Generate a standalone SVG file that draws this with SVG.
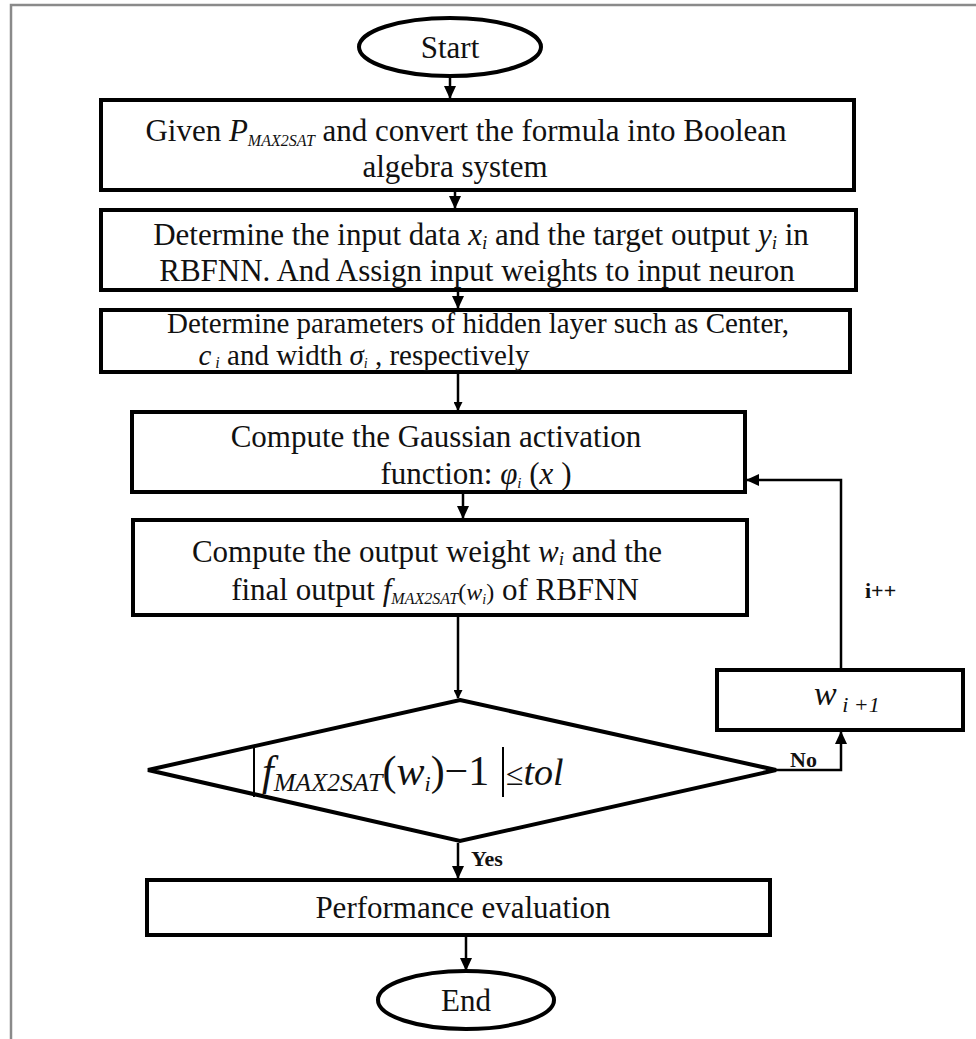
<svg xmlns="http://www.w3.org/2000/svg" width="976" height="1039" viewBox="0 0 976 1039">
<style>
.t{font-family:'Liberation Serif','DejaVu Serif',serif;font-size:31px;fill:#111;text-anchor:middle}
.i{font-style:italic}
.b{fill:#fff;stroke:#000;stroke-width:4}
.c{fill:none;stroke:#000;stroke-width:2.5}
.lb{font-family:'Liberation Serif','DejaVu Serif',serif;font-size:22px;font-weight:bold;fill:#111}
</style>
<defs>
<marker id="ah" markerWidth="9" markerHeight="9" refX="8" refY="4.5" orient="auto" markerUnits="userSpaceOnUse" viewBox="0 0 9 9">
<path d="M0,0 L9,4.5 L0,9 z" fill="#000"/>
</marker>
<marker id="ahb" markerWidth="13" markerHeight="12" refX="12" refY="6" orient="auto" markerUnits="userSpaceOnUse" viewBox="0 0 13 12">
<path d="M0,0 L13,6 L0,12 z" fill="#000"/>
</marker>
</defs>
<rect width="976" height="1039" fill="#fff"/>
<path d="M11,1039 V5 H976" fill="none" stroke="#8a8a8a" stroke-width="2.5"/>

<g id="connectors">
<line class="c" x1="450" y1="77" x2="450" y2="98" marker-end="url(#ahb)" stroke-width="3"/>
<line class="c" x1="455" y1="192" x2="455" y2="208" marker-end="url(#ahb)" stroke-width="3"/>
<line class="c" x1="458" y1="292" x2="458" y2="308" marker-end="url(#ahb)" stroke-width="3"/>
<line class="c" x1="458" y1="374" x2="458" y2="410" marker-end="url(#ah)" stroke-width="2"/>
<line class="c" x1="463" y1="494" x2="463" y2="518" marker-end="url(#ahb)" stroke-width="4"/>
<line class="c" x1="458" y1="617" x2="458" y2="698" marker-end="url(#ah)" stroke-width="2"/>
<polyline class="c" points="776,770 841,770 841,732" marker-end="url(#ahb)" stroke-width="3"/>
<polyline class="c" points="841,668 841,480 747,480" marker-end="url(#ahb)" stroke-width="3"/>
<line class="c" x1="458" y1="843" x2="458" y2="878" marker-end="url(#ahb)" stroke-width="4"/>
<line class="c" x1="466" y1="937" x2="466" y2="970" marker-end="url(#ahb)" stroke-width="4"/>
<text class="lb" x="790" y="767">No</text>
<text class="lb" x="865" y="598">i++</text>
<text class="lb" x="471" y="866">Yes</text>
</g>

<g id="start">
<ellipse class="b" cx="450" cy="47" rx="91" ry="29"/>
<text class="t" x="450" y="58">Start</text>
</g>

<g id="given">
<rect class="b" x="101" y="100" width="753" height="90"/>
<text class="t" x="466" y="141">Given  <tspan class="i">P</tspan><tspan class="i" font-size="16" dy="5">MAX2SAT</tspan><tspan dy="-5"> and convert the formula into Boolean</tspan></text>
<text class="t" x="455" y="177">algebra system</text>
</g>

<g id="input">
<rect class="b" x="101" y="210" width="755" height="80"/>
<text class="t" x="481" y="245">Determine the input data <tspan class="i">x</tspan><tspan class="i" font-size="19" dy="4">i</tspan><tspan dy="-4"> and the target output </tspan><tspan class="i">y</tspan><tspan class="i" font-size="19" dy="4">i</tspan><tspan dy="-4">  in</tspan></text>
<text class="t" x="477" y="281">RBFNN. And Assign input weights to input neuron</text>
</g>

<g id="params">
<rect class="b" x="101" y="310" width="749" height="62"/>
<text class="t" x="478" y="333" style="font-size:29px">Determine parameters of hidden layer such as Center,</text>
<text class="t" x="364" y="365" style="font-size:29px"><tspan class="i">c</tspan><tspan class="i" font-size="16" dy="3"> i</tspan><tspan dy="-3">  and width  </tspan><tspan class="i">σ</tspan><tspan class="i" font-size="14" dy="3">i</tspan><tspan dy="-3"> , respectively</tspan></text>
</g>

<g id="gauss">
<rect class="b" x="132" y="412" width="613" height="80"/>
<text class="t" x="436" y="447">Compute the Gaussian activation</text>
<text class="t" x="476" y="484">function: <tspan class="i">φ</tspan><tspan class="i" font-size="15" dy="4">i</tspan><tspan dy="-4"> (</tspan><tspan class="i">x</tspan> )</text>
</g>

<g id="output">
<rect class="b" x="133" y="520" width="614" height="95"/>
<text class="t" x="427" y="562">Compute the output weight <tspan class="i">w</tspan><tspan class="i" font-size="19" dy="3">i</tspan><tspan dy="-3"> and the</tspan></text>
<text class="t" x="435" y="600">final output <tspan class="i">f</tspan><tspan class="i" font-size="16" dy="4">MAX2SAT</tspan><tspan dy="-4" font-size="24">(</tspan><tspan class="i" font-size="24">w</tspan><tspan class="i" font-size="14" dy="4">i</tspan><tspan dy="-4" font-size="24">)</tspan> of RBFNN</text>
</g>

<g id="decision">
<polygon class="b" points="460,700 776,770 460,841 148,770"/>
<line x1="254" y1="747" x2="254" y2="797" stroke="#000" stroke-width="2"/>
<line x1="503" y1="747" x2="503" y2="797" stroke="#000" stroke-width="2"/>
<text class="t" x="262" y="785" style="font-size:42px;text-anchor:start"><tspan class="i">f</tspan><tspan class="i" font-size="26" dy="6">MAX2SAT</tspan><tspan dy="-6">(</tspan><tspan class="i">w</tspan><tspan class="i" font-size="22" dy="6">i</tspan><tspan dy="-6">)−1</tspan></text>
<text class="t" x="506" y="785" style="font-size:32px;text-anchor:start">≤<tspan class="i" font-size="38">tol</tspan></text>
</g>

<g id="wnext">
<rect class="b" x="717" y="670" width="246" height="60"/>
<text class="t" x="814" y="705" style="text-anchor:start"><tspan class="i" font-size="34">w</tspan><tspan class="i" font-size="22" dy="7"> i +1</tspan></text>
</g>

<g id="perf">
<rect class="b" x="147" y="880" width="623" height="55"/>
<text class="t" x="463" y="918">Performance evaluation</text>
</g>

<g id="end">
<ellipse class="b" cx="466" cy="1000" rx="88" ry="29"/>
<text class="t" x="466" y="1011">End</text>
</g>
</svg>
